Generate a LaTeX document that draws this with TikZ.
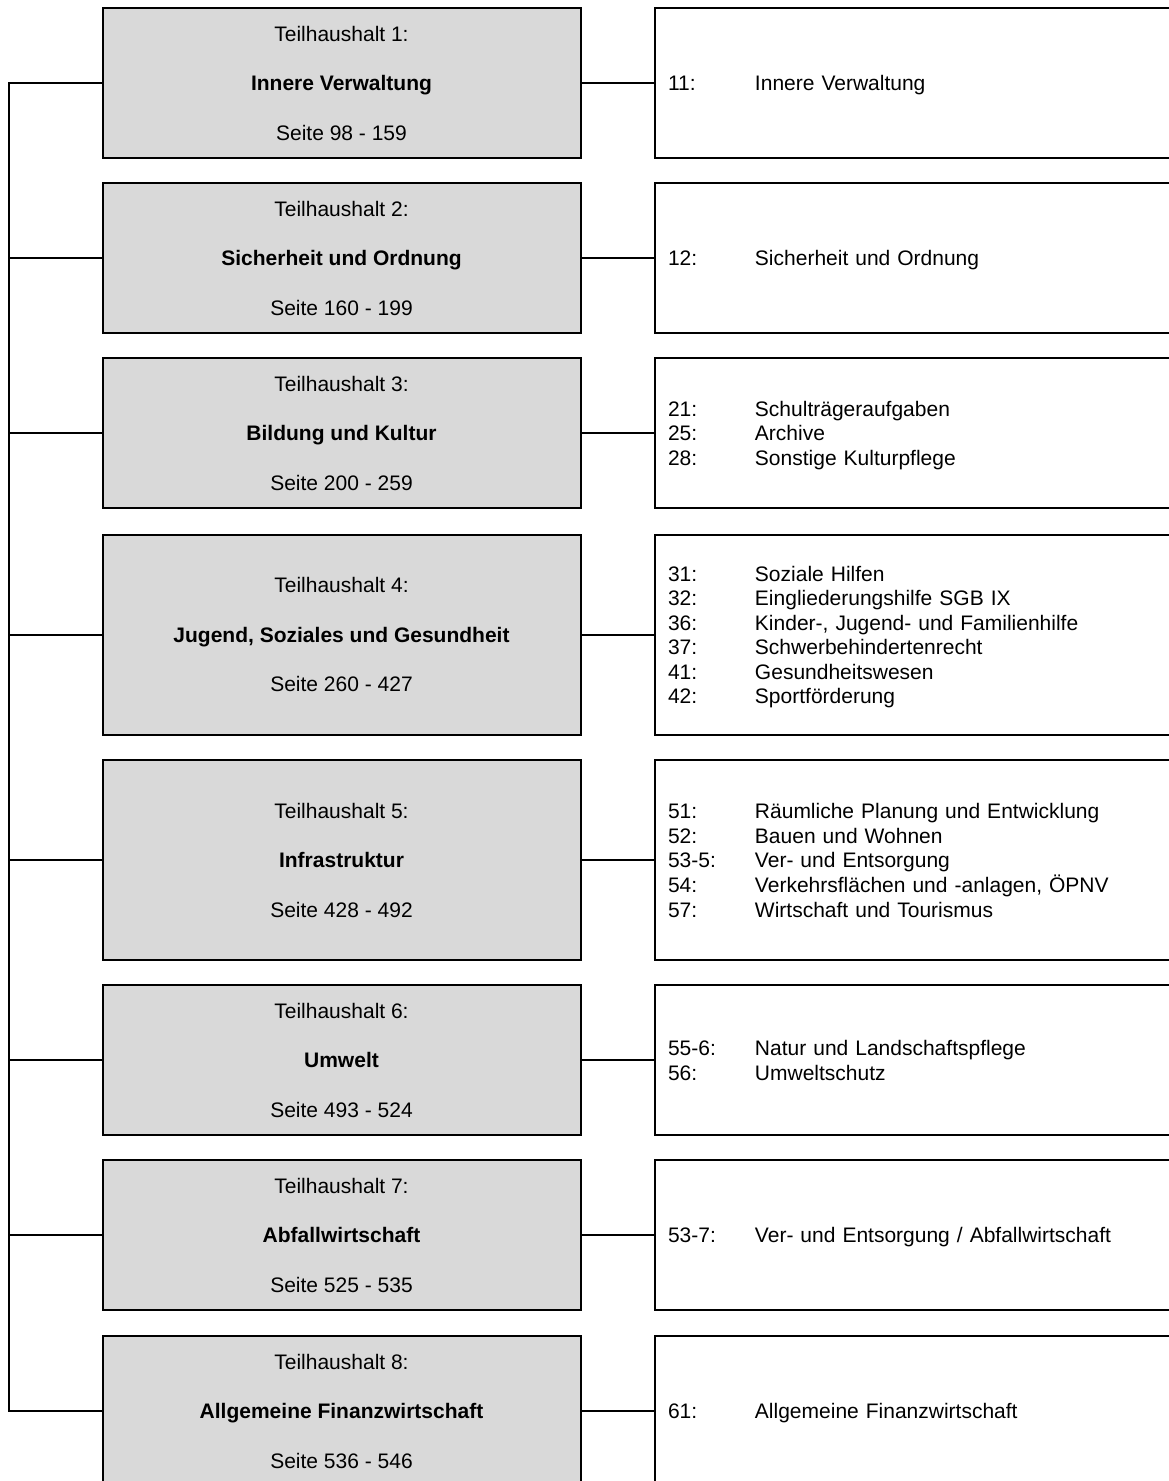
\documentclass[tikz,border=0pt]{standalone}
\usepackage{fontspec}
\setmainfont{Liberation Sans}
\usepackage{tikz}
\usetikzlibrary{positioning}
\definecolor{thgray}{RGB}{217,217,217}
\newcommand{\THtext}[3]{Teilhaushalt #1:\\\textbf{#2}\\Seite #3}
\newcommand{\TBlist}[1]{\raisebox{-3pt}[\height][\depth]{\begin{tabular}{@{}p{87pt}@{}l@{}}#1\end{tabular}}}

\begin{document}
\begin{tikzpicture}[x=1pt,y=-1pt,line width=2pt,
  thbox/.style={draw,fill=thgray,outer sep=0pt,minimum width=478pt,minimum height=150pt,
    align=center,font=\fontsize{21}{49.5}\selectfont},
  listbox/.style={draw,outer sep=0pt,minimum height=150pt,text width=534pt,inner xsep=13pt,
    align=left,font=\fontsize{21}{24.5}\selectfont},
  tall/.style={minimum height=200pt}]
  \path[use as bounding box,clip] (0,0) rectangle (1169,1481);

  % Teilhaushalte
  \node[thbox] (th1) at (341.5,83) {\THtext{1}{Innere Verwaltung}{98 - 159}};
  \node[thbox] (th2) at (341.5,258) {\THtext{2}{Sicherheit und Ordnung}{160 - 199}};
  \node[thbox] (th3) at (341.5,433) {\THtext{3}{Bildung und Kultur}{200 - 259}};
  \node[thbox,tall] (th4) at (341.5,634.5) {\THtext{4}{Jugend, Soziales und Gesundheit}{260 - 427}};
  \node[thbox,tall] (th5) at (341.5,860) {\THtext{5}{Infrastruktur}{428 - 492}};
  \node[thbox] (th6) at (341.5,1060) {\THtext{6}{Umwelt}{493 - 524}};
  \node[thbox] (th7) at (341.5,1235) {\THtext{7}{Abfallwirtschaft}{525 - 535}};
  \node[thbox] (th8) at (341.5,1411) {\THtext{8}{Allgemeine Finanzwirtschaft}{536 - 546}};

  % Produktbereiche
  \node[listbox,right=74.5pt of th1] (tb1) {\TBlist{11: & Innere Verwaltung}};
  \node[listbox,right=74.5pt of th2] (tb2) {\TBlist{12: & Sicherheit und Ordnung}};
  \node[listbox,right=74.5pt of th3] (tb3) {\TBlist{21: & Schulträgeraufgaben\\
    25: & Archive\\ 28: & Sonstige Kulturpflege}};
  \node[listbox,tall,right=74.5pt of th4] (tb4) {\TBlist{31: & Soziale Hilfen\\
    32: & Eingliederungshilfe SGB IX\\ 36: & Kinder-, Jugend- und Familienhilfe\\
    37: & Schwerbehindertenrecht\\ 41: & Gesundheitswesen\\ 42: & Sportförderung}};
  \node[listbox,tall,right=74.5pt of th5] (tb5) {\TBlist{51: & Räumliche Planung und Entwicklung\\
    52: & Bauen und Wohnen\\ 53-5: & Ver- und Entsorgung\\
    54: & Verkehrsflächen und -anlagen, ÖPNV\\ 57: & Wirtschaft und Tourismus}};
  \node[listbox,right=74.5pt of th6] (tb6) {\TBlist{55-6: & Natur und Landschaftspflege\\
    56: & Umweltschutz}};
  \node[listbox,right=74.5pt of th7] (tb7) {\TBlist{53-7: & Ver- und Entsorgung / Abfallwirtschaft}};
  \node[listbox,right=74.5pt of th8] (tb8) {\TBlist{61: & Allgemeine Finanzwirtschaft}};

  % Verbindungen
  \coordinate (trunk) at (8.5,0);
  \draw (th1.west) -- (th1.west -| trunk) -- (th8.west -| trunk) -- (th8.west);
  \foreach \i in {2,...,7}
    \draw (th\i.west) -- (th\i.west -| trunk);
  \foreach \i in {1,...,8}
    \draw (th\i.east) -- (tb\i.west);
\end{tikzpicture}
\end{document}
